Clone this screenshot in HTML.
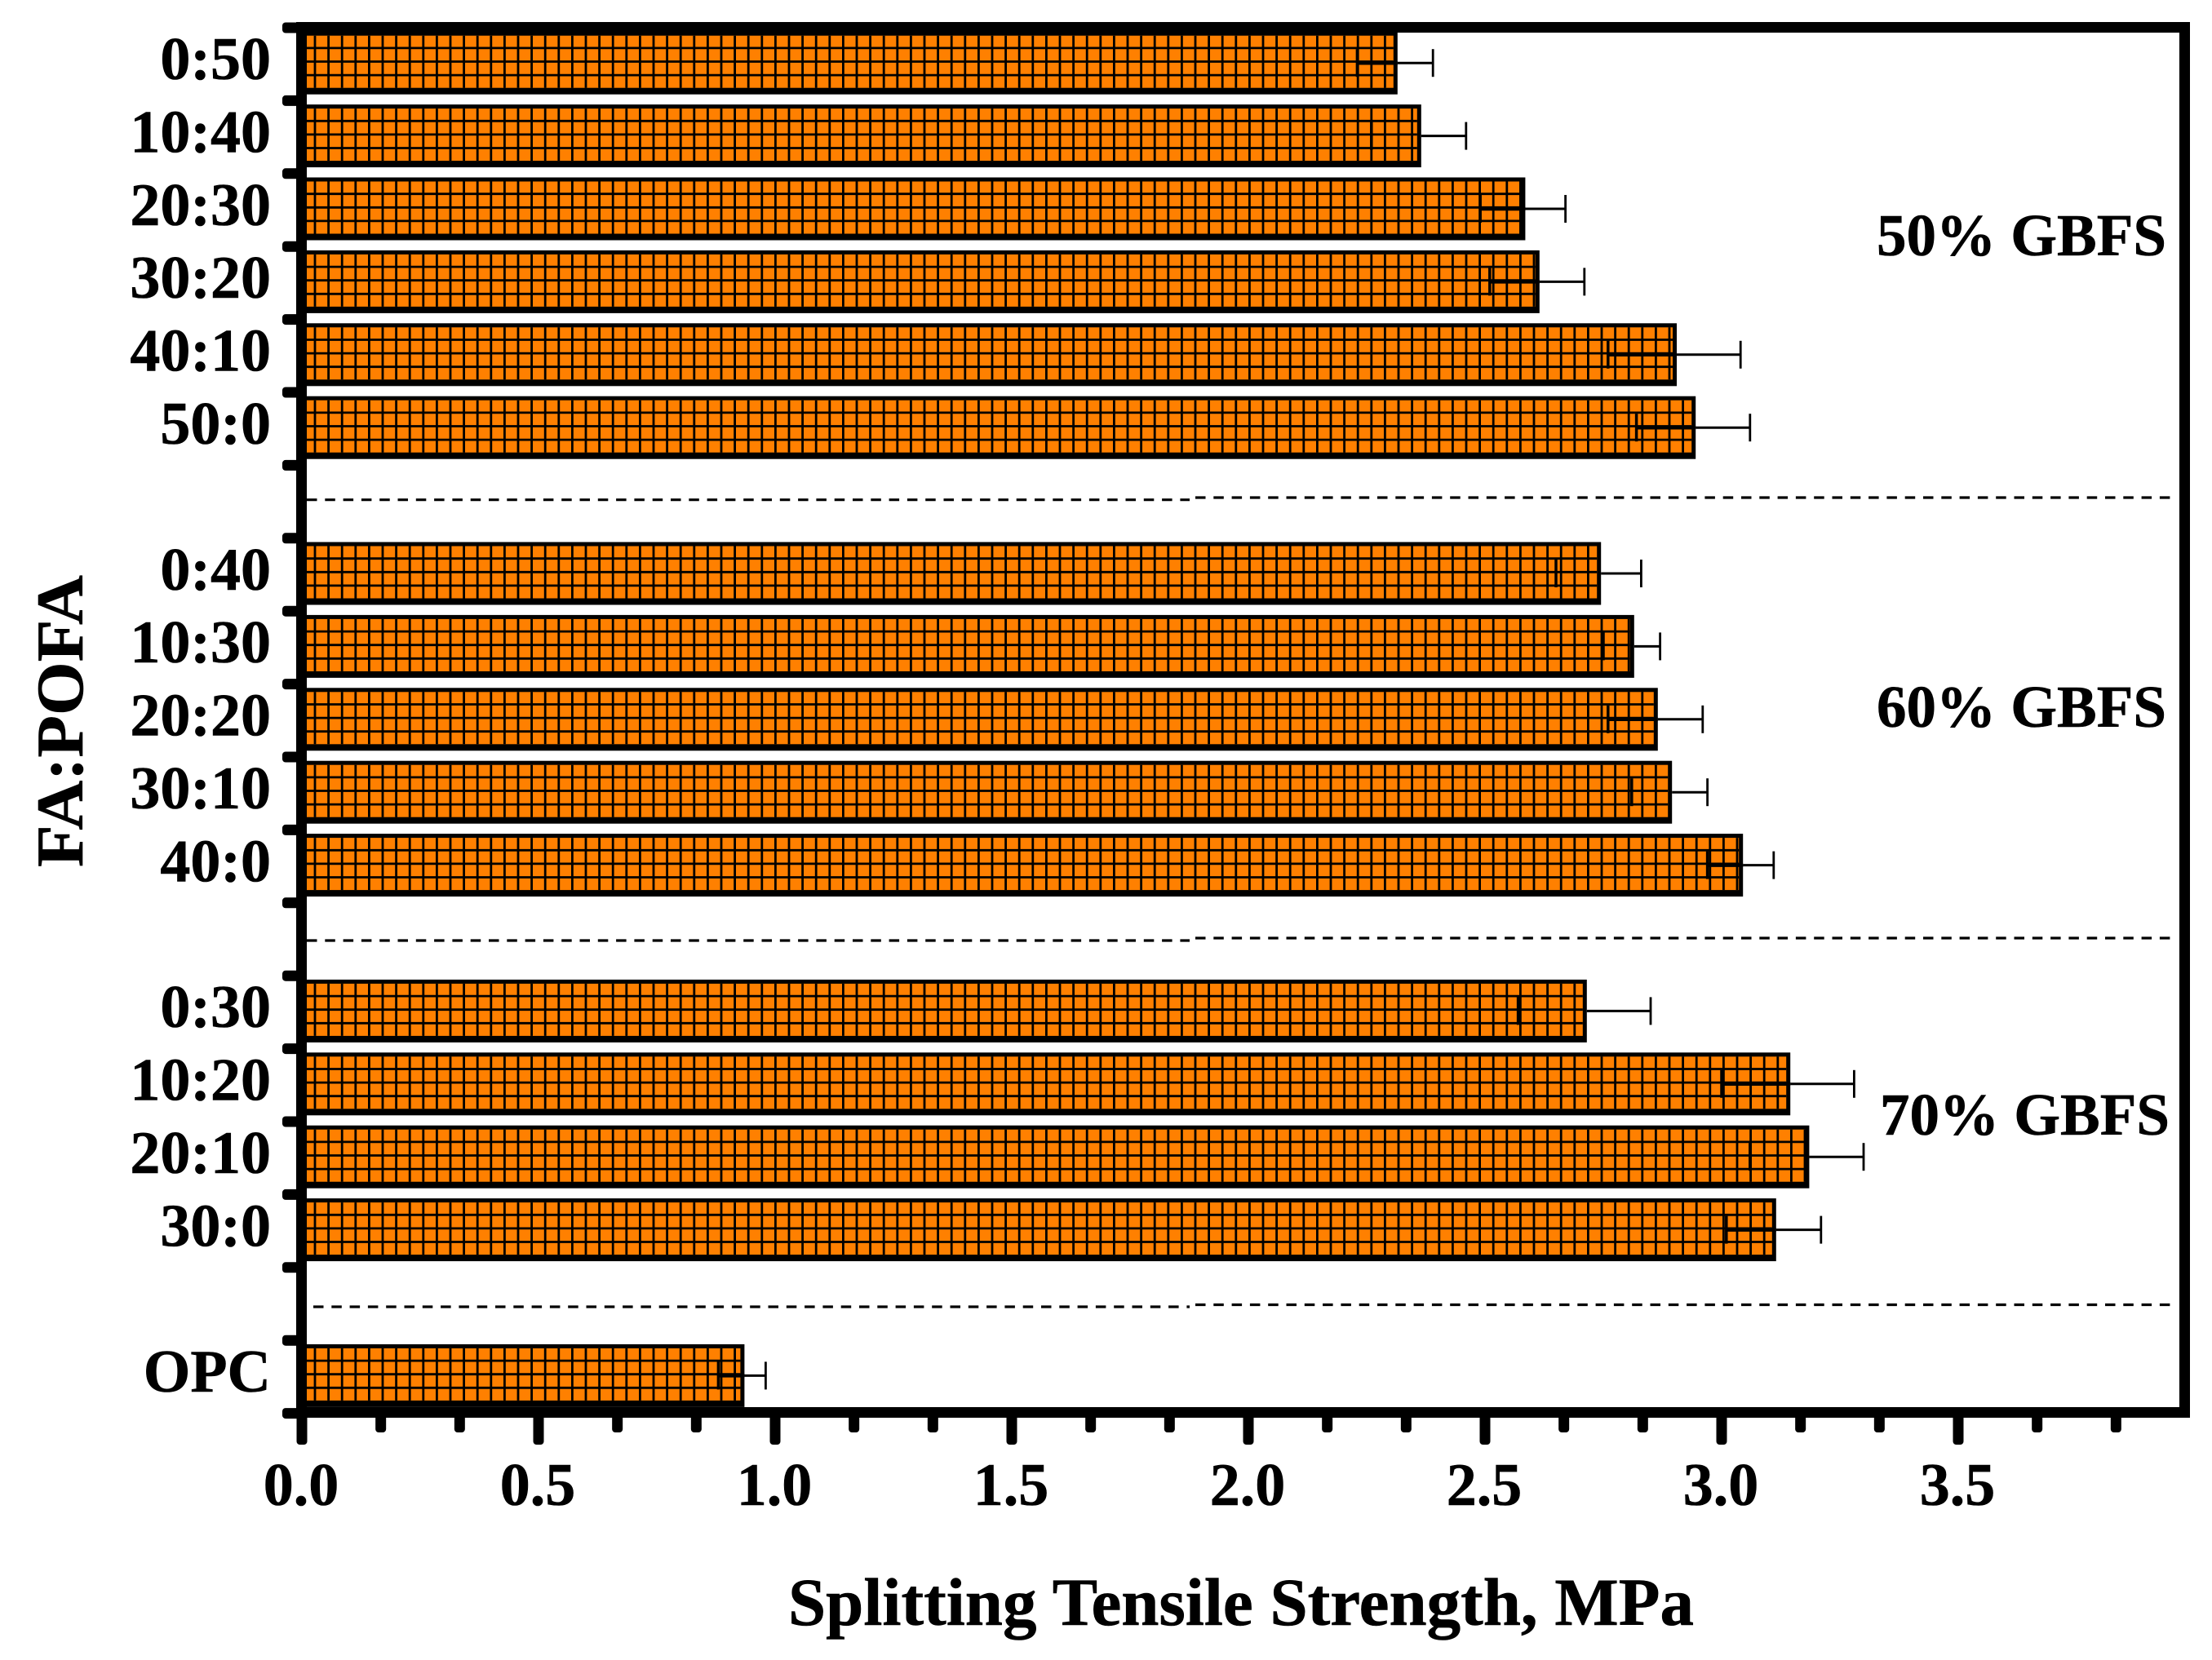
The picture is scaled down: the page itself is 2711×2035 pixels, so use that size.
<!DOCTYPE html>
<html lang="en">
<head>
<meta charset="utf-8">
<title>Splitting Tensile Strength by FA:POFA ratio</title>
<style>
  html, body { margin: 0; padding: 0; background: #fff; }
  svg { display: block; }
  text { font-family: "Liberation Serif", serif; font-weight: bold; fill: #000; stroke: #000; stroke-width: 0.6; }
</style>
</head>
<body>
<svg id="chart" xmlns="http://www.w3.org/2000/svg" width="2711" height="2035" viewBox="0 0 2711 2035">
  <rect x="0" y="0" width="2711" height="2035" fill="#ffffff"/>
  <g id="bars"></g>
  <g id="errors"></g>

  <g stroke="#000" stroke-width="3.2" stroke-dasharray="12.5 9.8" fill="none">
    <line x1="376" y1="612.7" x2="1458" y2="612.7"/>
    <line x1="1465" y1="610" x2="2663" y2="610"/>
    <line x1="376" y1="1153" x2="1458" y2="1153"/>
    <line x1="1465" y1="1150" x2="2668" y2="1150"/>
    <line x1="384" y1="1602" x2="1458" y2="1602"/>
    <line x1="1465" y1="1599.5" x2="2668" y2="1599.5"/>
  </g>

  <g id="ticks"></g>

  <g fill="#000">
    <rect x="363" y="27" width="13" height="1711"/>
    <rect x="363" y="27" width="2321" height="13"/>
    <rect x="2671" y="27" width="13" height="1711"/>
    <rect x="363" y="1725" width="2321" height="13"/>
  </g>

  <g id="labels"></g>

  <text x="2300" y="313" font-size="73">50% GBFS</text>
  <text x="2300" y="891" font-size="73">60% GBFS</text>
  <text x="2304" y="1391" font-size="73">70% GBFS</text>

  <text x="966" y="1992" font-size="83" textLength="1110" lengthAdjust="spacingAndGlyphs">Splitting Tensile Strength, MPa</text>
  <text transform="translate(101 1063) rotate(-90)" x="0" y="0" font-size="82" textLength="358" lengthAdjust="spacingAndGlyphs">FA:POFA</text>
</svg>
<script>
const categories = ['0:50', '10:40', '20:30', '30:20', '40:10', '50:0', '', '0:40', '10:30', '20:20', '30:10', '40:0', '', '0:30', '10:20', '20:10', '30:0', '', 'OPC'];
const strengthValues = [2.31, 2.36, 2.58, 2.61, 2.90, 2.94, null, 2.74, 2.81, 2.86, 2.89, 3.04, null, 2.71, 3.14, 3.18, 3.11, null, 0.93];
const errorValues = [0.08, 0.10, 0.09, 0.10, 0.14, 0.12, null, 0.09, 0.06, 0.10, 0.08, 0.07, null, 0.14, 0.14, 0.12, 0.10, null, 0.05];
const innerStemVisible = [true, false, true, true, true, true, null, false, false, true, false, true, null, false, true, false, true, null, true];
const majorTickValues = [0, 0.5, 1, 1.5, 2, 2.5, 3, 3.5];
const majorTickLabels = ['0.0', '0.5', '1.0', '1.5', '2.0', '2.5', '3.0', '3.5'];
const minorTicksPerMajor = 3;
const xAxisMax = 3.98;

const SVGNS = 'http://www.w3.org/2000/svg';
const xScale = function (v) { return 370 + v * 580; };
const slotTop = function (i) { return 34 + i * 89.4; };
const barCenter = function (i) { return 77.2 + i * 89.4; };
const labelBaseline = function (i) { return 97 + i * 89.4; };

function mk(parent, tag, attrs) {
  const el = document.createElementNS(SVGNS, tag);
  Object.keys(attrs).forEach(function (k) { el.setAttribute(k, attrs[k]); });
  parent.appendChild(el);
  return el;
}

const barsG = document.getElementById('bars');
const errorsG = document.getElementById('errors');
const ticksG = document.getElementById('ticks');
const labelsG = document.getElementById('labels');

const HATCH = 16.6;
const HATCH_START = 386;
const BAR_H = 77;
const BORDER_TOP = 5;
const BORDER_BOTTOM = 8;
const BORDER_RIGHT = 5;
const EDGE_NUDGE = 3;

categories.forEach(function (cat, i) {
  const value = strengthValues[i];
  if (value === null) return;
  const cy = barCenter(i);
  const top = cy - BAR_H / 2;
  const right = xScale(value) + EDGE_NUDGE;
  const innerLeft = 376;
  const innerRight = right - BORDER_RIGHT;
  const innerTop = top + BORDER_TOP;
  const innerBottom = top + BAR_H - BORDER_BOTTOM;

  const g = mk(barsG, 'g', {});
  
  

  const outer = mk(g, 'rect', { x: 370, y: top, width: right - 370, height: BAR_H, fill: '#000' });
  
  

  const fill = mk(g, 'rect', { x: innerLeft, y: innerTop, width: innerRight - innerLeft, height: innerBottom - innerTop, fill: '#ff8000' });
  
  

  let d = '';
  for (let x = HATCH_START; x < innerRight; x += HATCH) {
    d += 'M' + x.toFixed(2) + ' ' + innerTop + 'V' + innerBottom;
  }
  for (let y = innerTop + 15.2; y < innerBottom; y += HATCH) {
    d += 'M' + innerLeft + ' ' + y.toFixed(2) + 'H' + innerRight.toFixed(2);
  }
  const hatch = mk(g, 'path', { d: d, stroke: '#000', 'stroke-width': 2.8, fill: 'none' });
  
  

  const err = errorValues[i];
  const ey = cy;
  const eg = mk(errorsG, 'g', { stroke: '#000', fill: 'none' });
  
  
  const xLo = xScale(value - err);
  const xHi = xScale(value + err);
  if (innerStemVisible[i]) {
    mk(eg, 'line', { x1: xLo, y1: ey, x2: right, y2: ey, 'stroke-width': 4.5 });
  }
  mk(eg, 'line', { x1: right, y1: ey, x2: xHi, y2: ey, 'stroke-width': 3 });
  mk(eg, 'line', { x1: xLo, y1: ey - 17, x2: xLo, y2: ey + 17, 'stroke-width': 3.5 });
  mk(eg, 'line', { x1: xHi, y1: ey - 17, x2: xHi, y2: ey + 17, 'stroke-width': 2.8 });

  const label = mk(labelsG, 'text', { x: 332, y: labelBaseline(i), 'font-size': 74, 'text-anchor': 'end' });
  
  
  label.textContent = cat;
});

for (let i = 0; i <= categories.length; i++) {
  const t = mk(ticksG, 'rect', { x: 346, y: slotTop(i) - 6.5, width: 26, height: 13, rx: 4, fill: '#000' });
  
  
}

const majorStep = majorTickValues[1] - majorTickValues[0];
const minorStep = majorStep / minorTicksPerMajor;
for (let k = 0; k * minorStep < xAxisMax; k++) {
  const v = k * minorStep;
  const isMajor = k % minorTicksPerMajor === 0;
  const t = mk(ticksG, 'rect', { x: xScale(v) - 6.5, y: 1730, width: 13, height: isMajor ? 41 : 26, rx: 4, fill: '#000' });
  
  
}

majorTickValues.forEach(function (v, i) {
  const label = mk(labelsG, 'text', { x: xScale(v) - 1, y: 1845, 'font-size': 74, 'text-anchor': 'middle' });
  
  
  label.textContent = majorTickLabels[i];
});
</script>
</body>
</html>
